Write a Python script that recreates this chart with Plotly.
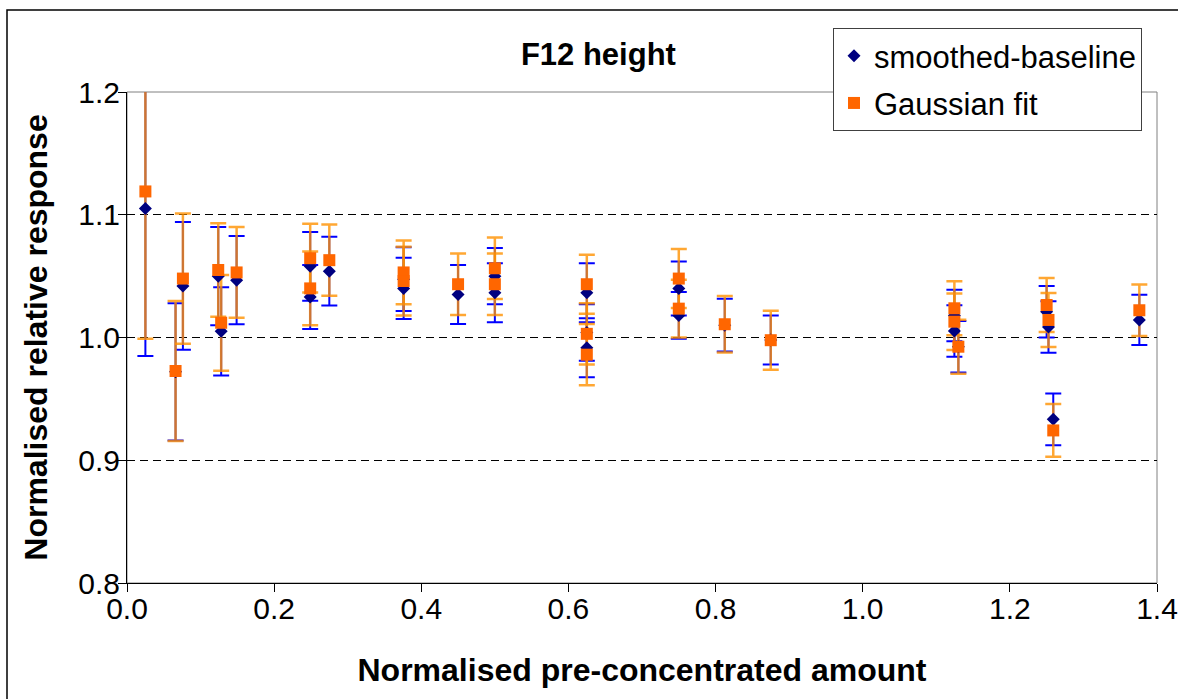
import plotly.graph_objects as go

# ---- data ----
x_vals = [0.025, 0.066, 0.076, 0.124, 0.128, 0.149, 0.249, 0.249, 0.275,
          0.376, 0.376, 0.45, 0.50, 0.50, 0.625, 0.625, 0.625, 0.75, 0.75,
          0.8125, 0.875, 1.1246, 1.1246, 1.13, 1.25, 1.2525, 1.259, 1.376]

smoothed = [1.105, 0.972, 1.042, 1.050, 1.005, 1.0467, 1.058, 1.033, 1.054,
            1.0475, 1.040, 1.035, 1.050, 1.0365, 1.0365, 1.004, 0.9917, 1.040, 1.018,
            1.010, 0.998, 1.018, 1.0053, 0.9925, 1.021, 1.0086, 0.9333, 1.0143]
smoothed_err = [0.120, 0.056, 0.052, 0.040, 0.036, 0.036, 0.028, 0.026, 0.028,
                0.026, 0.025, 0.024, 0.023, 0.024, 0.024, 0.023, 0.024, 0.022, 0.019,
                0.0215, 0.020, 0.021, 0.021, 0.021, 0.021, 0.021, 0.021, 0.0205]

gaussian = [1.119, 0.9727, 1.048, 1.055, 1.012, 1.053, 1.0646, 1.040, 1.063,
            1.053, 1.046, 1.0434, 1.0564, 1.0434, 1.0434, 1.003, 0.986, 1.048, 1.0235,
            1.0108, 0.9978, 1.0238, 1.0129, 0.9925, 1.0265, 1.0143, 0.9243, 1.0222]
gaussian_err = [0.120, 0.057, 0.053, 0.038, 0.039, 0.037, 0.028, 0.030, 0.029,
                0.026, 0.028, 0.025, 0.025, 0.025, 0.024, 0.025, 0.025, 0.024, 0.0235,
                0.023, 0.024, 0.022, 0.023, 0.022, 0.022, 0.022, 0.0215, 0.021]

x_ticks = [0.0, 0.2, 0.4, 0.6, 0.8, 1.0, 1.2, 1.4]
y_ticks = [0.8, 0.9, 1.0, 1.1, 1.2]

FONT = "Arial, Liberation Sans, sans-serif"
NAVY = "#000080"
BLUE_ERR = "#0000FF"
ORANGE = "#FF6600"
ORANGE_ERR = "rgba(255,145,0,0.8)"

fig = go.Figure()

# error bars first (drawn under all markers)
fig.add_trace(go.Scatter(
    x=x_vals, y=smoothed, mode="markers", showlegend=False, hoverinfo="skip",
    marker=dict(size=4, color="rgba(0,0,0,0)"),
    error_y=dict(type="data", array=smoothed_err, visible=True,
                 color=BLUE_ERR, thickness=2, width=8)))
fig.add_trace(go.Scatter(
    x=x_vals, y=gaussian, mode="markers", showlegend=False, hoverinfo="skip",
    marker=dict(size=4, color="rgba(0,0,0,0)"),
    error_y=dict(type="data", array=gaussian_err, visible=True,
                 color=ORANGE_ERR, thickness=2.5, width=8)))

# markers
fig.add_trace(go.Scatter(
    x=x_vals, y=smoothed, mode="markers", name="smoothed-baseline",
    legendgroup="a",
    marker=dict(symbol="diamond", size=10, color=NAVY, line=dict(width=0))))
fig.add_trace(go.Scatter(
    x=x_vals, y=gaussian, mode="markers", name="Gaussian fit",
    legendgroup="b",
    marker=dict(symbol="square", size=12, color=ORANGE, line=dict(width=0))))

fig.update_layout(
    width=1178, height=699,
    margin=dict(l=127, r=21, t=92, b=116),
    paper_bgcolor="white", plot_bgcolor="white",
    font=dict(family=FONT, color="black", size=30),
    title=dict(text="<b>F12 height</b>", x=0.508, xref="container", xanchor="center",
               y=1 - 54 / 699, yref="container", yanchor="middle",
               font=dict(family=FONT, size=31, color="black")),
    legend=dict(x=(833 - 127) / 1030, y=(583 - 28) / 491, xanchor="left", yanchor="top",
                bgcolor="white", bordercolor="#404040", borderwidth=1,
                font=dict(family=FONT, size=31, color="black"),
                tracegroupgap=4),
    showlegend=True,
    shapes=[
        # plot-area border (grey)
        dict(type="rect", xref="paper", yref="paper", x0=0, x1=1, y0=0, y1=1,
             line=dict(color="#808080", width=1), layer="below"),
        # outer chart border
        dict(type="rect", xref="paper", yref="paper",
             x0=(7 - 127) / 1030, x1=(1185 - 127) / 1030,
             y0=(583 - 710) / 491, y1=(583 - 10) / 491,
             line=dict(color="black", width=1.5), layer="below"),
    ],
)

fig.update_xaxes(
    range=[0, 1.4], tickvals=x_ticks, tickformat=".1f",
    showgrid=False, zeroline=False,
    showline=True, linecolor="black", linewidth=1,
    ticks="outside", ticklen=8, tickcolor="black", tickwidth=1,
    ticklabelstandoff=-9,
    tickfont=dict(family=FONT, size=30, color="black"),
    title=dict(text="<b>Normalised pre-concentrated amount</b>", standoff=34,
               font=dict(family=FONT, size=32, color="black")),
    automargin=False)

fig.update_yaxes(
    range=[0.8, 1.2], tickvals=y_ticks, tickformat=".1f",
    showgrid=True, gridcolor="black", gridwidth=1, griddash="8px,5px",
    zeroline=False,
    showline=True, linecolor="black", linewidth=1,
    ticks="outside", ticklen=8, tickcolor="black", tickwidth=1,
    ticklabelstandoff=-8,
    tickfont=dict(family=FONT, size=30, color="black"),
    title=dict(text="<b>Normalised relative response</b>", standoff=21,
               font=dict(family=FONT, size=32, color="black")),
    automargin=False)

fig.write_html("out.html")
